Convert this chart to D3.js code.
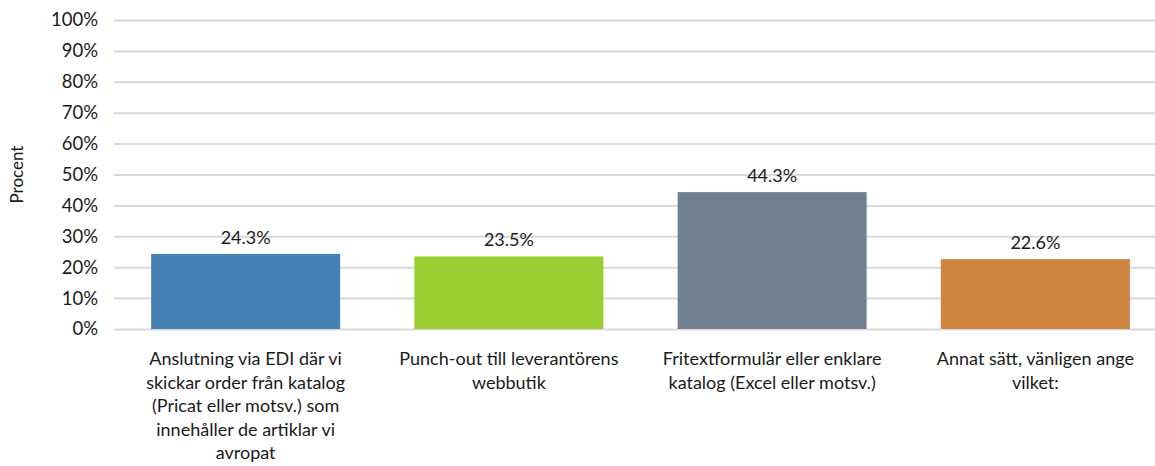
<!DOCTYPE html>
<html>
<head>
<meta charset="utf-8">
<script src="https://cdn.jsdelivr.net/npm/d3@7"></script>
<style>
	body { margin: 0; background: #fff; }
	text { font-family: Lato, "Open Sans", sans-serif; fill: #1a1a1a; }
</style>
</head>
<body>
<svg id="chart" width="1155" height="466"></svg>
<script>
"use strict";

// categories, one entry per bar, lines as in the original
var categories = [
	["Anslutning via EDI där vi", "skickar order från katalog", "(Pricat eller motsv.) som", "innehåller de artiklar vi", "avropat"],
	["Punch-out till leverantörens", "webbutik"],
	["Fritextformulär eller enklare", "katalog (Excel eller motsv.)"],
	["Annat sätt, vänligen ange", "vilket:"]
];
var values = [24.3, 23.5, 44.3, 22.6];
var colors = ["#4682b4", "#9acd32", "#708090", "#cd853f"];
var yTicks = [0, 10, 20, 30, 40, 50, 60, 70, 80, 90, 100];
var yLabel = "Procent";

//
// Setup Variables
//
var margin = { top: 20, left: 114 };
var width = 1053;
var height = 309;

var svg = d3.select("#chart");
var g = svg.append("g")
	.attr("transform", "translate(" + margin.left + "," + margin.top + ")");

var idx = d3.range(values.length);

var x = d3.scaleBand()
	.domain(idx)
	.range([0, width])
	.paddingInner(0.282)
	.paddingOuter(0.141);

var y = d3.scaleLinear()
	.domain([0, 100])
	.range([height, 0]);

//
// Grid + Y-Axis
//
var yAxis = d3.axisLeft(y)
	.tickValues(yTicks)
	.tickSize(-width)
	.tickPadding(16)
	.tickFormat(function(d) { return d + "%"; });

var yG = g.append("g").call(yAxis);
yG.select(".domain").remove();
yG.selectAll(".tick line")
	.attr("stroke", "#d9d9d9")
	.attr("stroke-width", 2);
yG.selectAll(".tick text")
	.style("font-size", "18.5px")
	.attr("fill", "#1a1a1a");

g.append("text")
	.attr("transform", "translate(" + (-91) + "," + (height / 2) + ") rotate(-90)")
	.attr("text-anchor", "middle")
	.style("font-size", "17px")
	.text(yLabel);

//
// Bars
//
g.selectAll(".bar")
	.data(idx)
	.enter()
	.append("rect")
	.attr("class", "bar")
	.attr("x", function(i) { return x(i); })
	.attr("width", x.bandwidth())
	.attr("y", function(i) { return y(values[i]); })
	.attr("height", function(i) { return height - y(values[i]); })
	.attr("fill", function(i) { return colors[i]; });

g.selectAll(".val")
	.data(idx)
	.enter()
	.append("text")
	.attr("class", "val")
	.attr("x", function(i) { return x(i) + x.bandwidth() / 2; })
	.attr("y", function(i) { return y(values[i]) - 10; })
	.attr("text-anchor", "middle")
	.style("font-size", "18px")
	.text(function(i) { return values[i].toFixed(1) + "%"; });

//
// Category labels
//
var cat = g.selectAll(".cat")
	.data(idx)
	.enter()
	.append("text")
	.attr("class", "cat")
	.attr("text-anchor", "middle")
	.style("font-size", "18px")
	.attr("transform", function(i) {
		return "translate(" + (x(i) + x.bandwidth() / 2) + "," + (height + 36) + ")";
	});

cat.selectAll("tspan")
	.data(function(i) { return categories[i]; })
	.enter()
	.append("tspan")
	.attr("x", 0)
	.attr("y", function(d, k) { return k * 23.6; })
	.text(function(d) { return d; });
</script>
</body>
</html>
